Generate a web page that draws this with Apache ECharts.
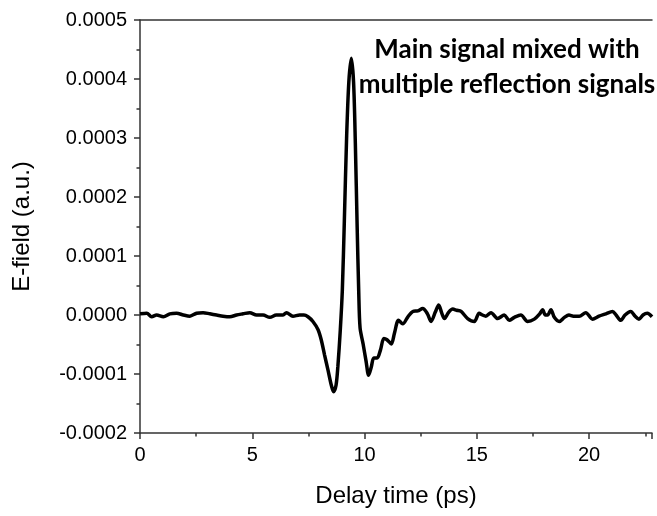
<!DOCTYPE html>
<html>
<head>
<meta charset="utf-8">
<script src="https://cdn.jsdelivr.net/npm/echarts@6/dist/echarts.min.js"></script>
<style>
  html, body { margin: 0; padding: 0; background: #fff; }
  #plot { width: 657px; height: 516px; }
</style>
</head>
<body>
<div id="plot"></div>
<script>
// delay time (ps) and E-field (a.u.)
var delayTime = [
  0.00, 0.30, 0.52, 0.74, 1.04, 1.33, 1.63, 1.93, 2.22, 2.52,
  2.81, 3.11, 3.41, 3.70, 4.00, 4.30, 4.59, 4.89, 5.19, 5.48,
  5.78, 6.07, 6.37, 6.52, 6.81, 7.11, 7.30, 7.48, 7.70, 7.93,
  8.07, 8.22, 8.37, 8.52, 8.62, 8.73, 8.81, 8.92, 9.01, 9.10,
  9.20, 9.30, 9.41, 9.51, 9.59, 9.67, 9.74, 9.80, 9.93, 10.07,
  10.18, 10.30, 10.41, 10.56, 10.71, 10.86, 11.00, 11.19, 11.33, 11.51,
  11.70, 11.93, 12.15, 12.37, 12.59, 12.80, 12.96, 13.15, 13.30, 13.45,
  13.56, 13.75, 13.93, 14.10, 14.30, 14.59, 14.89, 15.10, 15.25, 15.40,
  15.63, 15.93, 16.22, 16.44, 16.67, 16.96, 17.26, 17.56, 17.80, 17.93,
  18.05, 18.15, 18.30, 18.45, 18.67, 18.90, 19.10, 19.30, 19.56, 19.85,
  20.15, 20.44, 20.75, 21.04, 21.20, 21.41, 21.60, 21.85, 22.05, 22.22,
  22.40, 22.59, 22.80
];

var eField = [
  0.000002, 0.000003, -0.000003, 0.000000, -0.000003, 0.000002, 0.000003, 0.000000, -0.000002, 0.000003,
  0.000004, 0.000002, 0.000000, -0.000002, -0.000003, 0.000000, 0.000002, 0.000004, 0.000000, 0.000000,
  -0.000004, 0.000000, 0.000000, 0.000004, -0.000002, 0.000000, 0.000000, -0.000003, -0.000011, -0.000025,
  -0.000042, -0.000068, -0.000093, -0.000119, -0.000130, -0.000119, -0.000088, -0.000025, 0.000042, 0.000160,
  0.000300, 0.000395, 0.000435, 0.000395, 0.000290, 0.000150, 0.000040, -0.000022, -0.000048, -0.000079,
  -0.000102, -0.000088, -0.000073, -0.000073, -0.000059, -0.000040, -0.000042, -0.000049, -0.000031, -0.000009,
  -0.000015, -0.000003, 0.000006, 0.000007, 0.000011, 0.000002, -0.000011, 0.000005, 0.000017, 0.000002,
  -0.000006, 0.000005, 0.000010, 0.000008, 0.000006, -0.000006, -0.000011, 0.000003, 0.000000, -0.000002,
  0.000004, -0.000006, 0.000000, -0.000009, -0.000004, 0.000000, -0.000011, -0.000007, 0.000002, 0.000009,
  0.000000, 0.000000, 0.000009, -0.000004, -0.000011, -0.000004, 0.000000, -0.000002, -0.000002, 0.000004,
  -0.000007, -0.000002, 0.000002, 0.000006, 0.000000, -0.000009, 0.000000, 0.000006, -0.000002, -0.000007,
  0.000000, 0.000003, -0.000003
];

var xTicks = { min: 0, max: 22.8, interval: 5 };
var yTicks = { min: -0.0002, max: 0.0005, interval: 0.0001 };

var annotation = 'Main signal mixed with\nmultiple reflection signals';

var myChart = echarts.init(document.getElementById('plot'));

var axisColor = '#333';
var labelFont = 'Liberation Sans, Arial, sans-serif';

var seriesData = delayTime.map(function (t, i) {
  return [t, eField[i]];
});

var option = {
  animation: false,
  grid: {
    left: 140,
    top: 20,
    right: 5,
    bottom: 83,
    outerBoundsMode: 'none'
  },
  xAxis: [{
    type: 'value',
    min: xTicks.min,
    max: xTicks.max,
    interval: xTicks.interval,
    name: 'Delay time (ps)',
    nameLocation: 'middle',
    nameGap: 51,
    nameTextStyle: { fontFamily: labelFont, fontSize: 24, color: '#000' },
    axisLine: { show: true, onZero: false, lineStyle: { color: axisColor, width: 1.5 } },
    axisTick: { show: true, inside: false, length: 6, lineStyle: { color: axisColor, width: 1.5 } },
    minorTick: { show: true, splitNumber: 2, length: 3.5, lineStyle: { color: axisColor, width: 1.5 } },
    axisLabel: {
      margin: 12,
      fontFamily: labelFont,
      fontSize: 20,
      color: '#000',
      showMaxLabel: false
    },
    splitLine: { show: false }
  }, {
    type: 'value',
    position: 'top',
    min: xTicks.min,
    max: xTicks.max,
    axisLine: { show: true, onZero: false, lineStyle: { color: axisColor, width: 1.5 } },
    axisTick: { show: false },
    axisLabel: { show: false },
    splitLine: { show: false }
  }],
  yAxis: {
    type: 'value',
    min: yTicks.min,
    max: yTicks.max,
    interval: yTicks.interval,
    name: 'E-field (a.u.)',
    nameLocation: 'middle',
    nameGap: 106,
    nameTextStyle: { fontFamily: labelFont, fontSize: 24, color: '#000' },
    axisLine: { show: true, onZero: false, lineStyle: { color: axisColor, width: 1.5 } },
    axisTick: { show: true, inside: false, length: 6, lineStyle: { color: axisColor, width: 1.5 } },
    minorTick: { show: true, splitNumber: 2, length: 3.5, lineStyle: { color: axisColor, width: 1.5 } },
    axisLabel: {
      margin: 13,
      fontFamily: labelFont,
      fontSize: 20,
      color: '#000',
      formatter: function (v) {
        return v.toFixed(4);
      }
    },
    splitLine: { show: false }
  },
  series: [{
    type: 'line',
    data: seriesData,
    showSymbol: false,
    smooth: 0.3,
    lineStyle: { color: '#000', width: 3.5 },
    z: 3
  }],
  graphic: [{
    type: 'text',
    x: 507,
    y: 32,
    style: {
      text: annotation,
      fontFamily: 'Lato, sans-serif',
      fontWeight: 'bold',
      fontSize: 26,
      lineHeight: 35,
      fill: '#000',
      textAlign: 'center',
      textVerticalAlign: 'top'
    }
  }]
};

myChart.setOption(option);
</script>
</body>
</html>
